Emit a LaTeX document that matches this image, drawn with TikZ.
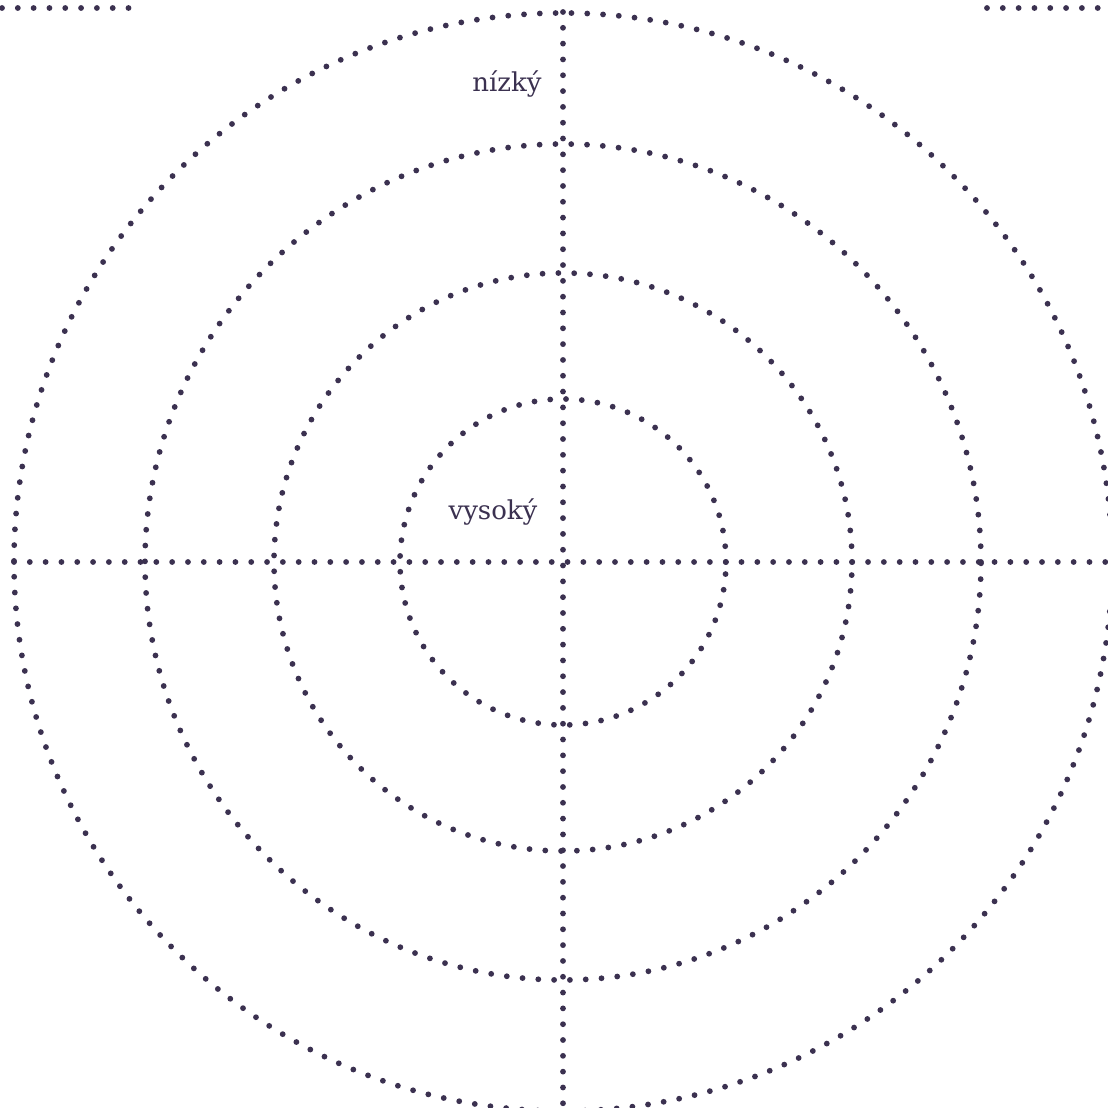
\documentclass[tikz,border=0pt]{standalone}
\usepackage{fontspec}
\setmainfont{DejaVu Serif}
\usepackage{xcolor}
\usetikzlibrary{positioning}

\definecolor{dotink}{RGB}{59,49,80}

\tikzset{
  dotline/.style={dotink, line width=1.65pt, line cap=round, dash pattern=on 0pt off 4.5pt},
  ringlabel/.style={text=dotink, font=\fontsize{7.4}{9}\selectfont, inner sep=1pt}
}

\begin{document}
\begin{tikzpicture}

% ---------------- 1. CANVAS ----------------
\useasboundingbox (-5.63,-5.46) rectangle (5.45,5.62);
\coordinate (C) at (0,0);

% ---------------- 2. RINGS ----------------
\foreach \r in {1.63,2.89,4.18,5.49}
  \draw[dotline] (C) circle (\r);

% ---------------- 3. AXES ----------------
\draw[dotline] (-5.49,0) -- (5.50,0);
\draw[dotline] (0,5.50) -- (0,-5.50);

% Corner strokes along the top edge
\draw[dotline] (-5.61,5.54) -- (-4.20,5.54);
\draw[dotline] (4.24,5.54) -- (5.40,5.54);

% ---------------- 4. LABELS ----------------
\node[ringlabel, anchor=base] (low) at (-0.56,4.70) {nízký};
\node[ringlabel, anchor=base] (high) at (-0.70,0.43) {vysoký};

\end{tikzpicture}
\end{document}
